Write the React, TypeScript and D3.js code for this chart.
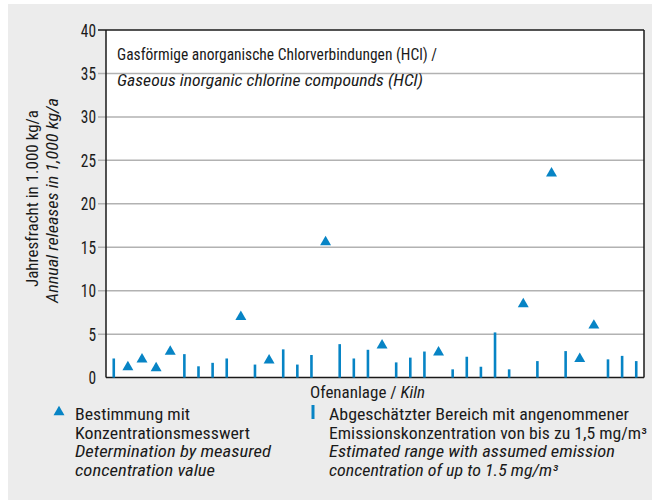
import React from "react";
import * as d3 from "d3";

// Data: one entry per kiln. kind "T" = measured (triangle), "B" = estimated range (bar)
const kilnKinds = ["B","T","T","T","T","B","B","B","B","T","B","T","B","B","B","T","B","B","B","T","B","B","B","T","B","B","B","B","B","T","B","T","B","T","T","B","B","B"];
const kilnValues = [2.2,1.2,2.1,1.1,3.0,2.7,1.3,1.7,2.2,7.0,1.5,2.0,3.25,1.5,2.6,15.6,3.85,2.2,3.2,3.7,1.75,2.3,3.0,2.9,0.95,2.4,1.25,5.2,0.95,8.45,1.9,23.5,3.05,2.15,6.0,2.1,2.5,1.9];
const yTicks = [0, 5, 10, 15, 20, 25, 30, 35, 40];
const legendLeft = ["Bestimmung mit", "Konzentrationsmesswert", "Determination by measured", "concentration value"];
const legendRight = ["Abgeschätzter Bereich mit angenommener", "Emissionskonzentration von bis zu 1,5 mg/m³", "Estimated range with assumed emission", "concentration of up to 1.5 mg/m³"];

const W = 660, H = 502;
const m = { left: 106, right: 644, top: 30, bottom: 377.6 };
const BLUE = "#0784c5";
const FONT = "'Liberation Sans Narrow', 'Roboto Condensed', Roboto, 'Liberation Sans', Arial, sans-serif";
const leftWidths = [115, 175, 196, 140];
const rightWidths = [300, 318, 286, 229];
const legendY = [420, 438.5, 457, 475.5];

export default function App() {
  const x = d3.scalePoint<number>().domain(kilnValues.map((_, i) => i)).range([m.left, m.right]).padding(0.55);
  const y = d3.scaleLinear().domain([0, 40]).range([m.bottom, m.top]);
  const tri = d3.symbol().type(d3.symbolTriangle).size(52)();

  return (
    <svg width={W} height={H} style={{ position: "absolute", left: 0, top: 0 }} fontFamily={FONT}>
      <rect x={8} y={4} width={644} height={496} fill="#ececec" />
      <rect x={m.left} y={m.top} width={m.right - m.left} height={m.bottom - m.top} fill="#ffffff" />
      {yTicks.filter(t => t > 0 && t < 40).map(t => (
        <line key={t} x1={98} x2={m.right} y1={y(t)} y2={y(t)} stroke="#b2b2b2" strokeWidth={1.5} />
      ))}
      <line x1={98} x2={m.right} y1={y(40)} y2={y(40)} stroke="#1a1a1a" strokeWidth={1.5} />
      <line x1={m.left} x2={m.left} y1={m.top} y2={m.bottom} stroke="#1a1a1a" strokeWidth={1.5} />
      <line x1={m.right} x2={m.right} y1={m.top} y2={m.bottom} stroke="#1a1a1a" strokeWidth={1.5} />
      <line x1={m.left} x2={m.right} y1={m.bottom} y2={m.bottom} stroke="#1a1a1a" strokeWidth={1.5} />
      {yTicks.map(t => (
        <text key={t} x={96} y={y(t) + 6.5} fontSize={18} textAnchor="end" fill="#1a1a1a"
          textLength={String(t).length * 7.6} lengthAdjust="spacingAndGlyphs">{t}</text>
      ))}
      {kilnValues.map((v, i) => kilnKinds[i] === "B" ? (
        <line key={i} x1={x(i)} x2={x(i)} y1={y(0)} y2={y(v)} stroke={BLUE} strokeWidth={2.6} />
      ) : (
        <path key={i} d={tri as string} transform={`translate(${x(i)},${y(v)})`} fill={BLUE} />
      ))}
      <text x={117} y={60} fontSize={17} fill="#1a1a1a" textLength={320} lengthAdjust="spacingAndGlyphs">Gasförmige anorganische Chlorverbindungen (HCl) /</text>
      <text x={117} y={86} fontSize={17} fontStyle="italic" fill="#1a1a1a" textLength={306} lengthAdjust="spacingAndGlyphs">Gaseous inorganic chlorine compounds (HCl)</text>
      <text transform="translate(38,198.5) rotate(-90)" fontSize={17} textAnchor="middle" fill="#1a1a1a" textLength={177} lengthAdjust="spacingAndGlyphs">Jahresfracht in 1.000 kg/a</text>
      <text transform="translate(58,200.5) rotate(-90)" fontSize={17} textAnchor="middle" fontStyle="italic" fill="#1a1a1a" textLength={205} lengthAdjust="spacingAndGlyphs">Annual releases in 1,000 kg/a</text>
      <text x={310} y={398} fontSize={17} fill="#1a1a1a" textLength={115} lengthAdjust="spacingAndGlyphs">Ofenanlage / <tspan fontStyle="italic">Kiln</tspan></text>
      <path d={tri as string} transform="translate(59,412)" fill={BLUE} />
      {legendLeft.map((t, i) => (
        <text key={t} x={75} y={legendY[i]} fontSize={16} fontStyle={i >= 2 ? "italic" : "normal"} fill="#1a1a1a"
          textLength={leftWidths[i]} lengthAdjust="spacingAndGlyphs">{t}</text>
      ))}
      <line x1={313} x2={313} y1={405} y2={419} stroke={BLUE} strokeWidth={3} />
      {legendRight.map((t, i) => (
        <text key={t} x={329} y={legendY[i]} fontSize={16} fontStyle={i >= 2 ? "italic" : "normal"} fill="#1a1a1a"
          textLength={rightWidths[i]} lengthAdjust="spacingAndGlyphs">{t}</text>
      ))}
    </svg>
  );
}
